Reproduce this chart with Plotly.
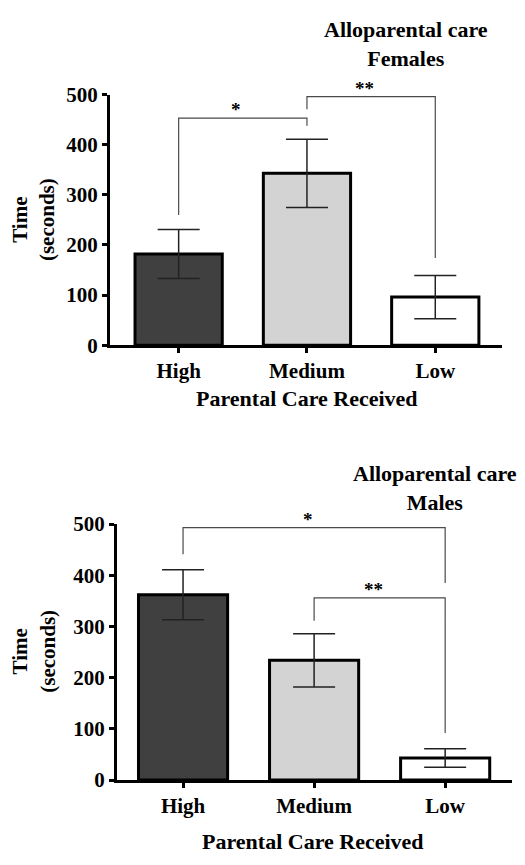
import plotly.graph_objects as go

categories = ["High", "Medium", "Low"]
fem_means = [182, 343, 96]
fem_sem = [49, 68, 43]
male_means = [362, 234, 43]
male_sem = [49, 52, 18]
bar_colors = ["#404040", "#d3d3d3", "#ffffff"]
yticks = [0, 100, 200, 300, 400, 500]

# significance brackets: (left cat idx, right cat idx, bar y, left leg end, right leg end, label)
fem_sig = [(0, 1, 453, 260, 438, "*"), (1, 2, 496, 471, 174, "**")]
male_sig = [(0, 2, 493, 441, 385, "*"), (1, 2, 356, 311, 92, "**")]

W, H = 525, 865
FONT = "'Times New Roman', 'Liberation Serif', Times, serif"

def px_x(p):
    return p / W

def px_y(p):
    return 1 - p / H

fig = go.Figure()

for i, (means, sems, xa, ya) in enumerate([(fem_means, fem_sem, "x", "y"), (male_means, male_sem, "x2", "y2")]):
    fig.add_trace(go.Bar(
        x=list(range(3)), y=means,
        marker=dict(color=bar_colors, line=dict(color="black", width=3)),
        width=0.68,
        error_y=dict(type="data", array=sems, visible=True, color="#222222", thickness=1.5, width=21),
        xaxis=xa, yaxis=ya, showlegend=False,
    ))

axis_common_x = dict(
    tickmode="array", tickvals=list(range(3)), ticktext=categories,
    showline=True, linecolor="black", linewidth=3, ticks="outside", ticklen=5, tickwidth=3,
    tickcolor="black", showgrid=False, zeroline=False,
    tickfont=dict(family=FONT, size=21, color="black", weight="bold"),
)
axis_common_y = dict(
    range=[0, 500], tickmode="array", tickvals=yticks,
    showline=True, linecolor="black", linewidth=3, ticks="outside", ticklen=5, tickwidth=3,
    tickcolor="black", showgrid=False, zeroline=False,
    tickfont=dict(family=FONT, size=21, color="black", weight="bold"),
)

fig.update_layout(
    width=W, height=H, margin=dict(l=0, r=0, t=0, b=0),
    paper_bgcolor="white", plot_bgcolor="white",
    xaxis=dict(domain=[px_x(110), px_x(502)], range=[-0.535, 2.52], anchor="y", **axis_common_x),
    yaxis=dict(domain=[px_y(342.7), px_y(85)], anchor="x", **axis_common_y),
    xaxis2=dict(domain=[px_x(117), px_x(512)], range=[-0.504, 2.51], anchor="y2", **axis_common_x),
    yaxis2=dict(domain=[px_y(790), px_y(526.7)], anchor="x2", **axis_common_y),
    bargap=0.3,
)

for sig, xa, ya in [(fem_sig, "x", "y"), (male_sig, "x2", "y2")]:
    for a, b, yb, ya_end, yb_end, lab in sig:
        fig.add_shape(type="path",
                      path=f"M {a},{ya_end} L {a},{yb} L {b},{yb} L {b},{yb_end}",
                      xref=xa, yref=ya, line=dict(color="#4a4a4a", width=1.2))
        fig.add_annotation(x=(a + b) / 2 - 0.05, y=yb, xref=xa, yref=ya, text=lab,
                           showarrow=False, yanchor="bottom", yshift=-4,
                           font=dict(family=FONT, size=19, color="black", weight="bold"))

annots = [
    (406, 33, "Alloparental care<br>Females", 0, 22),
    (435, 490, "Alloparental care<br>Males", 0, 22),
    (307, 398, "Parental Care Received", 0, 22),
    (313, 853, "Parental Care Received", 0, 22),
    (33, 214, "Time<br>(seconds)", -90, 21),
    (34, 658, "Time<br>(seconds)", -90, 21),
]
for x, y, t, ang, sz in annots:
    fig.add_annotation(x=px_x(x), y=px_y(y), xref="paper", yref="paper", text=t,
                       showarrow=False, xanchor="center", yanchor="middle", textangle=ang,
                       font=dict(family=FONT, size=sz, color="black", weight="bold"))

fig.write_html("out.html")
